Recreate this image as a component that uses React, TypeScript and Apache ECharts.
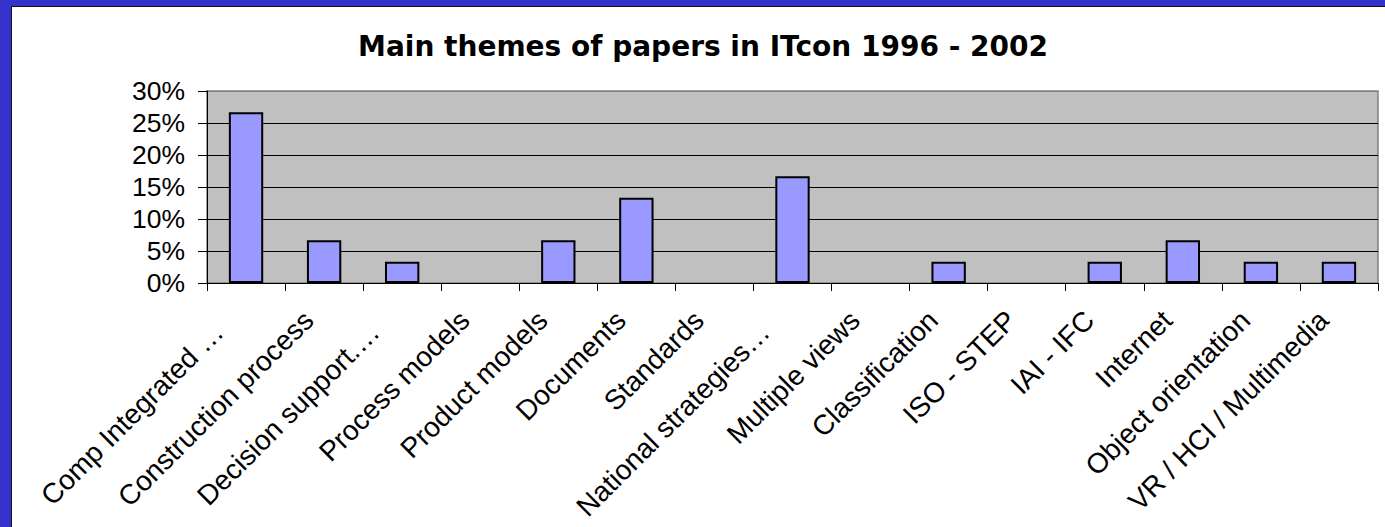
import React, { useEffect, useRef } from "react";
import * as echarts from "echarts";

const chartTitle = "Main themes of papers in ITcon 1996 - 2002";
const categories = [
  "Comp Integrated …",
  "Construction process",
  "Decision support.…",
  "Process models",
  "Product models",
  "Documents",
  "Standards",
  "National strategies…",
  "Multiple views",
  "Classification",
  "ISO - STEP",
  "IAI - IFC",
  "Internet",
  "Object orientation",
  "VR / HCI / Multimedia",
];
const shares = [26.67, 6.67, 3.33, 0, 6.67, 13.33, 0, 16.67, 0, 3.33, 0, 3.33, 6.67, 3.33, 3.33];
const yMin = 0;
const yMax = 30;
const yStep = 5;

export default function App() {
  const ref = useRef<HTMLDivElement>(null);
  useEffect(() => {
    document.body.style.margin = "0";
    if (!ref.current) return;
    const chart = echarts.init(ref.current, undefined, { renderer: "svg" });
    chart.setOption({
      animation: false,
      backgroundColor: "transparent",
      graphic: [
        {
          type: "text",
          x: 703,
          y: 46.5,
          style: {
            text: chartTitle,
            align: "center",
            verticalAlign: "middle",
            fontFamily: "DejaVu Sans",
            fontWeight: "bold",
            fontSize: 28,
            fill: "#000",
          },
        },
      ],
      grid: {
        left: 207,
        top: 91,
        right: 7,
        bottom: 244,
        show: true,
        backgroundColor: "#C0C0C0",
        borderColor: "#808080",
        borderWidth: 1.5,
      },
      xAxis: {
        type: "category",
        data: categories,
        boundaryGap: true,
        axisLine: { show: true, lineStyle: { color: "#000", width: 1 } },
        axisTick: { show: true, alignWithLabel: false, length: 8, lineStyle: { color: "#000" } },
        axisLabel: {
          interval: 0,
          rotate: 45,
          margin: 17,
          color: "#000",
          fontFamily: "Liberation Sans",
          fontSize: 28,
          formatter: (v: string) => (v.endsWith("…") ? `{e|${v}}` : `{n|${v}}`),
          rich: {
            n: { fontFamily: "Liberation Sans", fontSize: 28, color: "#000", padding: [0, 22, 0, 0] },
            e: { fontFamily: "Liberation Sans", fontSize: 28, color: "#000", padding: [0, 39, 0, 0] },
          },
        },
        splitLine: { show: false },
      },
      yAxis: {
        type: "value",
        min: yMin,
        max: yMax,
        interval: yStep,
        axisLine: { show: true, lineStyle: { color: "#000", width: 1 } },
        axisTick: { show: true, length: 9, lineStyle: { color: "#000" } },
        axisLabel: {
          margin: 22,
          color: "#000",
          fontFamily: "Liberation Sans",
          fontSize: 26.5,
          formatter: "{value}%",
        },
        splitLine: {
          show: true,
          lineStyle: {
            color: ["#000", "#000", "#000", "#000", "#000", "#000", "#808080"],
            width: 1,
          },
        },
      },
      series: [
        {
          type: "bar",
          data: shares.map((v) => (v === 0 ? { value: v, itemStyle: { borderWidth: 0 } } : v)),
          barWidth: "44%",
          itemStyle: { color: "#9999FF", borderColor: "#000", borderWidth: 2 },
        },
      ],
    });
    return () => chart.dispose();
  }, []);

  return (
    <div style={{ position: "relative", width: 1385, height: 527, background: "#3333CC", overflow: "hidden" }}>
      <div
        style={{
          position: "absolute",
          left: 11,
          top: 6,
          width: 1374,
          height: 521,
          background: "#fff",
          borderLeft: "1px solid #111",
          borderTop: "1px solid #111",
          boxSizing: "border-box",
        }}
      />
      <div ref={ref} style={{ position: "absolute", left: 0, top: 0, width: 1385, height: 527 }} />
    </div>
  );
}
